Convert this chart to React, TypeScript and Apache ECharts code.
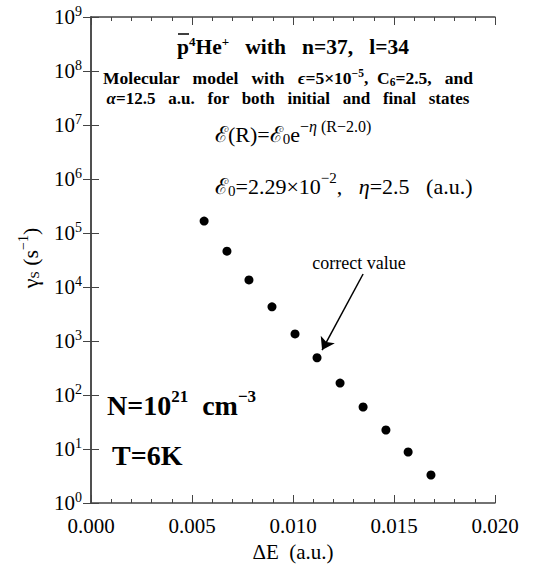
import React, { useEffect, useRef } from "react";
import * as echarts from "echarts";

const deltaE = [0.0056, 0.00673, 0.00782, 0.00896, 0.0101, 0.01119, 0.01233, 0.01347, 0.0146, 0.0157, 0.01683];
const gammaS = [1.66e5, 4.6e4, 1.35e4, 4.3e3, 1.35e3, 4.9e2, 1.66e2, 60, 22.5, 8.8, 3.3];
const xTicks = ["0.000", "0.005", "0.010", "0.015", "0.020"];
const arrowFrom = [0.01347, 1.74e4];
const arrowTo = [0.01144, 680];

const SERIF = "Liberation Serif";

const base = (size: number, bold = false) => ({
  fontSize: size, fontFamily: SERIF, fontWeight: bold ? "bold" : "normal",
  fill: "#000", color: "#000", lineHeight: size, verticalAlign: "middle",
});
const ital = (size: number, bold = false) => ({ ...base(size, bold), fontStyle: "italic" });
const sup = (size: number, raise: number, bold = false) => ({
  ...base(size, bold), padding: [0, 0, 2 * raise, 0],
});
const supI = (size: number, raise: number, bold = false) => ({ ...sup(size, raise, bold), fontStyle: "italic" });
const sub = (size: number, lower: number, bold = false) => ({
  ...base(size, bold), padding: [2 * lower, 0, 0, 0],
});

export default function App() {
  const ref = useRef<HTMLDivElement>(null);
  useEffect(() => {
    const chart = echarts.init(ref.current!, null, { renderer: "svg" });
    const axisCol = "#444";
    chart.setOption({
      animation: false,
      backgroundColor: "#fff",
      grid: { left: 91, right: 40, top: 17, bottom: 64, outerBoundsMode: "none", containLabel: false },
      xAxis: [
        {
          type: "value", min: 0, max: 0.02, interval: 0.005, position: "bottom",
          axisLine: { lineStyle: { color: axisCol, width: 1.5 } },
          axisTick: { inside: true, length: 8, lineStyle: { color: axisCol } },
          minorTick: { show: true, splitNumber: 5, length: 4, lineStyle: { color: axisCol } },
          splitLine: { show: false },
          axisLabel: {
            margin: 12, fontSize: 21, fontFamily: SERIF, color: "#000",
            formatter: (v: number) => xTicks[Math.round(v / 0.005)] ?? v.toFixed(3),
          },
          name: "ΔE  (a.u.)", nameLocation: "middle", nameGap: 38,
          nameTextStyle: { fontSize: 21, fontFamily: SERIF, color: "#000" },
        },
        {
          type: "value", min: 0, max: 0.02, interval: 0.005, position: "top",
          axisLine: { lineStyle: { color: axisCol, width: 1.5 } },
          axisTick: { inside: true, length: 8, lineStyle: { color: axisCol } },
          minorTick: { show: true, splitNumber: 5, length: 4, lineStyle: { color: axisCol } },
          splitLine: { show: false }, axisLabel: { show: false },
        },
      ],
      yAxis: [
        {
          type: "log", logBase: 10, min: 1, max: 1e9, position: "left",
          axisLine: { show: true, lineStyle: { color: axisCol, width: 1.5 } },
          axisTick: { show: true, inside: true, length: 8, lineStyle: { color: axisCol } },
          minorTick: { show: false }, splitLine: { show: false },
          axisLabel: {
            margin: 9, fontFamily: SERIF, color: "#000",
            formatter: (v: number) => `{b|10}{s|${Math.round(Math.log10(v))}}`,
            rich: { b: base(21), s: sup(14, 6) },
          },
        },
        {
          type: "log", logBase: 10, min: 1, max: 1e9, position: "right",
          axisLine: { show: true, lineStyle: { color: axisCol, width: 1.5 } },
          axisTick: { show: true, inside: true, length: 8, lineStyle: { color: axisCol } },
          splitLine: { show: false }, axisLabel: { show: false },
        },
      ],
      series: [
        {
          type: "scatter",
          data: deltaE.map((x, i) => [x, gammaS[i]]),
          symbol: "circle", symbolSize: 9,
          itemStyle: { color: "#000", opacity: 1 },
          markLine: {
            silent: true, symbol: ["none", "arrow"], symbolSize: 12,
            label: { show: false },
            lineStyle: { color: "#000", width: 1.5, type: "solid", opacity: 1 },
            data: [[{ coord: arrowFrom }, { coord: arrowTo }]],
          },
        },
      ],
      graphic: [
        {
          type: "text", x: 177, y: 47,
          style: {
            text: "{b|p}{s|4}{b|He}{s|+}{b|   with   n=37,   l=34}",
            verticalAlign: "middle",
            rich: { b: base(21.5, true), s: sup(13, 6, true) },
          },
        },
        { type: "line", shape: { x1: 178, y1: 34, x2: 189, y2: 34 }, style: { stroke: "#000", lineWidth: 1.5 } },
        {
          type: "text", x: 103, y: 78,
          style: {
            text: "{b|Molecular   model   with   }{i|ϵ}{b|=5×10}{s|−5}{b|,  C}{u|6}{b|=2.5,   and}",
            verticalAlign: "middle",
            rich: { b: base(17.5, true), i: ital(17.5, true), s: sup(11.5, 5, true), u: sub(11.5, 4, true) },
          },
        },
        {
          type: "text", x: 288, y: 98,
          style: {
            text: "{i|α}{b|=12.5   a.u.   for   both   initial   and   final   states}",
            align: "center", verticalAlign: "middle",
            rich: { b: base(17, true), i: ital(17, true) },
          },
        },
        {
          type: "text", x: 215, y: 134,
          style: {
            text: "{b|ℰ(R)=ℰ}{u|0}{b|e}{s|−}{si|η}{s| (R−2.0)}",
            verticalAlign: "middle",
            rich: { b: base(22), s: sup(16, 8), si: supI(16, 8), u: sub(15, 5) },
          },
        },
        {
          type: "text", x: 215, y: 186,
          style: {
            text: "{b|ℰ}{u|0}{b|=2.29×10}{s|−2}{b|,   }{i|η}{b|=2.5   (a.u.)}",
            verticalAlign: "middle",
            rich: { b: base(22), i: ital(22), s: sup(15, 8), u: sub(15, 5) },
          },
        },
        {
          type: "text", x: 359, y: 263,
          style: { text: "correct value", fontSize: 18, fontFamily: SERIF, fill: "#000", align: "center", verticalAlign: "middle" },
        },
        {
          type: "text", x: 107, y: 405,
          style: {
            text: "{b|N=10}{s|21}{b|  cm}{s|−3}",
            verticalAlign: "middle",
            rich: { b: base(28, true), s: sup(17, 9, true) },
          },
        },
        {
          type: "text", x: 112, y: 455,
          style: { text: "T=6K", fontSize: 28, fontWeight: "bold", fontFamily: SERIF, fill: "#000", verticalAlign: "middle" },
        },
        {
          type: "text", x: 30, y: 258, rotation: Math.PI / 2,
          style: {
            text: "{b|γ}{u|S}{b| (s}{s|−1}{b|)}",
            align: "center", verticalAlign: "middle",
            rich: { b: base(22), s: sup(14, 7), u: sub(13, 4) },
          },
        },
      ],
    });
    return () => chart.dispose();
  }, []);
  return <div ref={ref} style={{ width: 535, height: 567, position: "absolute", left: 0, top: 0 }} />;
}
